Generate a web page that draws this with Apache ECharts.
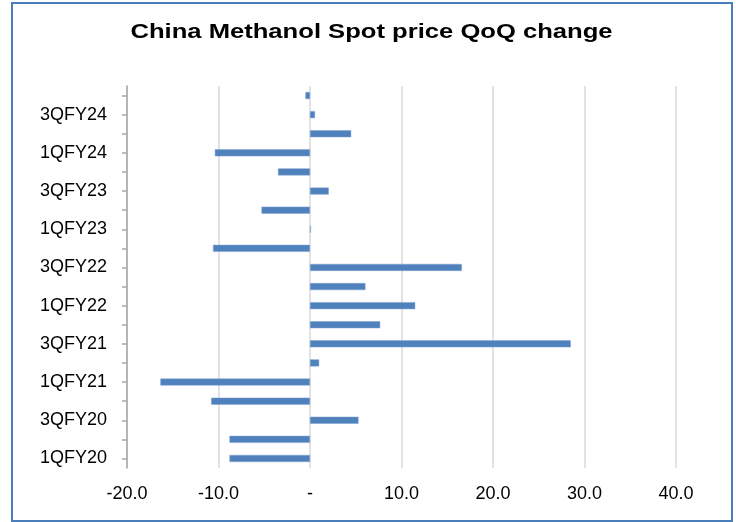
<!DOCTYPE html>
<html>
<head>
<meta charset="utf-8">
<script src="https://cdn.jsdelivr.net/npm/echarts@6/dist/echarts.min.js"></script>
<style>
html,body{margin:0;padding:0;background:#fff;}
#chart{width:736px;height:522px;}
</style>
</head>
<body>
<div id="chart"></div>
<script>
const titleText = 'China Methanol Spot price QoQ change';
const categories = ['1QFY20','2QFY20','3QFY20','4QFY20','1QFY21','2QFY21','3QFY21','4QFY21',
  '1QFY22','2QFY22','3QFY22','4QFY22','1QFY23','2QFY23','3QFY23','4QFY23',
  '1QFY24','2QFY24','3QFY24','4QFY24'];
const qoqChange = [-8.8,-8.8,5.3,-10.8,-16.35,1.0,28.5,7.67,
  11.5,6.06,16.6,-10.6,0.1,-5.3,2.05,-3.5,
  -10.4,4.5,0.55,-0.5];
const xMin = -20, xMax = 40, xStep = 10;

const chart = echarts.init(document.getElementById('chart'), null, {renderer:'canvas'});
const font = '"Liberation Sans", Arial, sans-serif';
chart.setOption({
  animation:false,
  backgroundColor:'#ffffff',
  graphic:[
    {type:'rect', shape:{x:12,y:3,width:720,height:518}, style:{fill:'none', stroke:'#4A7EBB', lineWidth:2}, z:100},
    {type:'text', x:371.5, y:32.5, scaleX:1.28, z:100,
      style:{text:titleText, fill:'#000', font:'bold 20px ' + font,
        textAlign:'center', textVerticalAlign:'middle', align:'center', verticalAlign:'middle'}}
  ],
  grid:{left:127, right:60, top:86, bottom:54, containLabel:false},
  xAxis:{
    type:'value', min:xMin, max:xMax, interval:xStep,
    axisLine:{show:false}, axisTick:{show:false},
    splitLine:{show:true, lineStyle:{color:'#D9D9D9', width:1.5}},
    axisLabel:{color:'#000', fontSize:18, fontFamily:font, margin:17,
      formatter:function(v){ return v === 0 ? '-' : v.toFixed(1); }}
  },
  yAxis:[
    {
      type:'category', data:categories, position:'left',
      axisLine:{show:false}, axisTick:{show:false}, splitLine:{show:false},
      axisLabel:{show:true, interval:1, color:'#000', fontSize:18, fontFamily:font, margin:20}
    },
    {
      type:'category', data:categories, position:'left',
      axisLine:{show:true, onZero:true, lineStyle:{color:'#A6A6A6', width:1.5}},
      axisTick:{show:true, alignWithLabel:true, interval:0, length:5, lineStyle:{color:'#A6A6A6', width:1.5}},
      axisLabel:{show:false}, splitLine:{show:false}
    }
  ],
  series:[{
    type:'bar', yAxisIndex:0, data:qoqChange, barWidth:7,
    itemStyle:{color:'#4F81BD', borderColor:'#7FA3D1', borderWidth:0.5}
  }]
});
</script>
</body>
</html>
